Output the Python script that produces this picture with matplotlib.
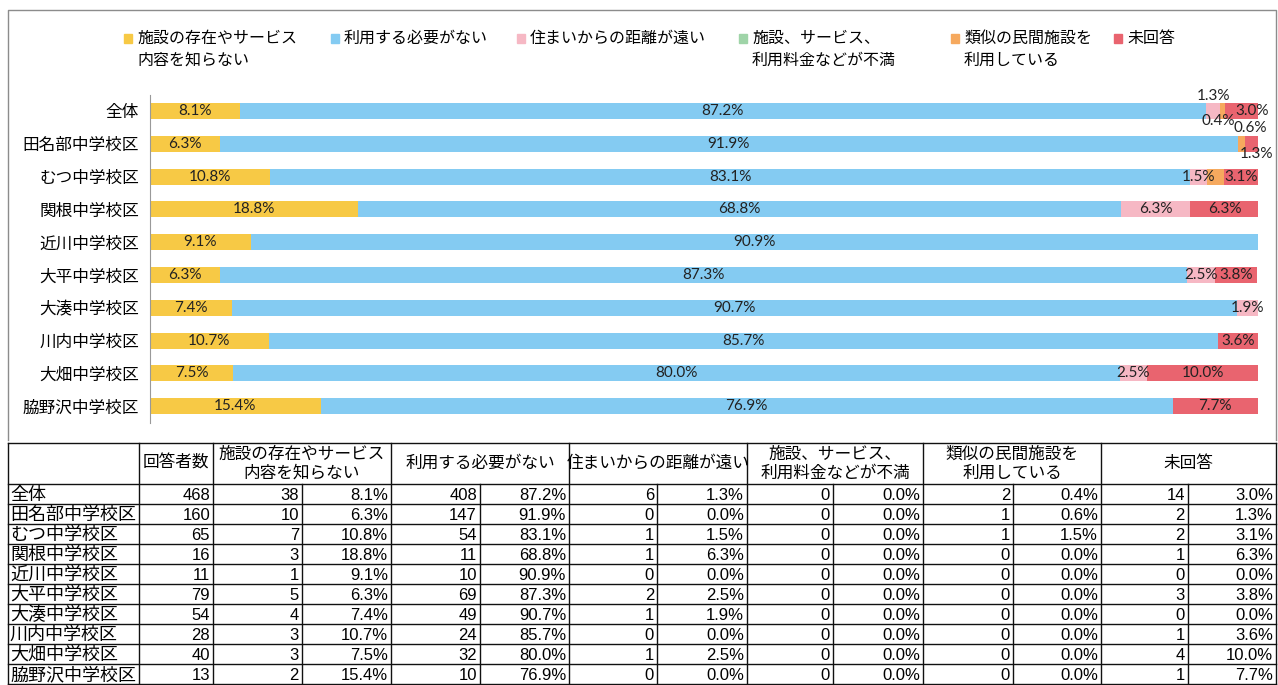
import matplotlib
matplotlib.use('Agg')
import numpy as np
import matplotlib.pyplot as plt
from matplotlib.patches import Rectangle

plt.rcParams['font.family'] = ['Noto Sans CJK JP', 'DejaVu Sans']

# ---- data ----
areas = ['全体', '田名部中学校区', 'むつ中学校区', '関根中学校区', '近川中学校区',
         '大平中学校区', '大湊中学校区', '川内中学校区', '大畑中学校区', '脇野沢中学校区']
respondents = [468, 160, 65, 16, 11, 79, 54, 28, 40, 13]

series_names = ['施設の存在やサービス\n内容を知らない', '利用する必要がない', '住まいからの距離が遠い',
                '施設、サービス、\n利用料金などが不満', '類似の民間施設を\n利用している', '未回答']

cnt_know = [38, 10, 7, 3, 1, 5, 4, 3, 3, 2]
cnt_need = [408, 147, 54, 11, 10, 69, 49, 24, 32, 10]
cnt_far = [6, 0, 1, 1, 0, 2, 1, 0, 1, 0]
cnt_dissat = [0, 0, 0, 0, 0, 0, 0, 0, 0, 0]
cnt_private = [2, 1, 1, 0, 0, 0, 0, 0, 0, 0]
cnt_noans = [14, 2, 2, 1, 0, 3, 0, 1, 4, 1]

pct_know = [8.1, 6.3, 10.8, 18.8, 9.1, 6.3, 7.4, 10.7, 7.5, 15.4]
pct_need = [87.2, 91.9, 83.1, 68.8, 90.9, 87.3, 90.7, 85.7, 80.0, 76.9]
pct_far = [1.3, 0.0, 1.5, 6.3, 0.0, 2.5, 1.9, 0.0, 2.5, 0.0]
pct_dissat = [0.0, 0.0, 0.0, 0.0, 0.0, 0.0, 0.0, 0.0, 0.0, 0.0]
pct_private = [0.4, 0.6, 1.5, 0.0, 0.0, 0.0, 0.0, 0.0, 0.0, 0.0]
pct_noans = [3.0, 1.3, 3.1, 6.3, 0.0, 3.8, 0.0, 3.6, 10.0, 7.7]

counts = [cnt_know, cnt_need, cnt_far, cnt_dissat, cnt_private, cnt_noans]
pcts = [pct_know, pct_need, pct_far, pct_dissat, pct_private, pct_noans]

colors = ['#F7C945', '#84CBF2', '#F6B8C4', '#9FD4A8', '#F6A95E', '#E9646F']

# label tweaks for crowded small segments (pixel offsets), hidden labels
label_offsets = {(0, 2): (0, 15), (0, 4): (-4, -10), (0, 5): (11, 0),
                 (1, 4): (9, 16), (1, 5): (5, -10)}
hidden_labels = {(2, 4)}

W, H = 1278, 685
fig = plt.figure(figsize=(W / 100, H / 100), dpi=100)
canvas = fig.add_axes([0, 0, 1, 1])
canvas.set_xlim(0, W)
canvas.set_ylim(H, 0)
canvas.axis('off')

# chart frame
canvas.plot([8, 8, 1276, 1276], [440, 10, 10, 440], color='#8c8c8c', lw=1)

# legend
leg_x = [128, 335, 521, 743, 955, 1118]
for x, name, c in zip(leg_x, series_names, colors):
    canvas.add_patch(Rectangle((x - 4, 34), 8, 9, color=c))
    for k, line in enumerate(name.split('\n')):
        canvas.text(x + 9, 38 + 22 * k, line, va='center', ha='left', fontsize=11.5)

# ---- bars ----
top, bot = 94.6, 422.6
bx = fig.add_axes([150 / W, 1 - bot / H, 1108 / W, (bot - top) / H])
y = np.arange(len(areas))
left = np.zeros(len(areas))
for s, (vals, c) in enumerate(zip(pcts, colors)):
    vals = np.array(vals)
    bx.barh(y, vals, left=left, height=0.49, color=c, edgecolor='none')
    for i, v in enumerate(vals):
        if v <= 0 or (i, s) in hidden_labels:
            continue
        dx, dy = label_offsets.get((i, s), (0, 0))
        bx.annotate(f'{v:.1f}%', (left[i] + v / 2, i), xytext=(dx, dy),
                    textcoords='offset pixels', ha='center', va='center',
                    fontsize=11, family=['Lato', 'DejaVu Sans'], color='#222222')
    left += vals
bx.set_xlim(0, 100)
bx.set_ylim(len(areas) - 0.5, -0.5)
bx.set_yticks(y)
bx.set_yticklabels(areas, fontsize=12)
bx.tick_params(axis='y', length=0, pad=8)
bx.set_xticks([])
for sp in ['top', 'right', 'bottom']:
    bx.spines[sp].set_visible(False)
bx.spines['left'].set_color('#999999')
bx.patch.set_alpha(0)

# ---- table ----
cols = [8, 139, 213, 302, 391, 480, 569, 657, 747, 833, 923, 1013, 1101, 1188, 1276]
t_top, h_bot, row_h = 443, 484, 20
n = len(areas)
t_bot = h_bot + row_h * n
lc = '#111111'
for yy in [t_top, h_bot] + [h_bot + row_h * (i + 1) for i in range(n)]:
    canvas.plot([cols[0], cols[-1]], [yy, yy], color=lc, lw=1)
for k, xx in enumerate(cols):
    major = k in (0, 1, 2, 4, 6, 8, 10, 12, 14)
    canvas.plot([xx, xx], [t_top if major else h_bot, t_bot], color=lc, lw=1)

head_font = 12
canvas.text((cols[1] + cols[2]) / 2, (t_top + h_bot) / 2, '回答者数',
            ha='center', va='center', fontsize=head_font)
for s, name in enumerate(series_names):
    x0, x1 = cols[2 + 2 * s], cols[4 + 2 * s]
    lines = name.split('\n')
    if len(lines) == 1:
        canvas.text((x0 + x1) / 2, (t_top + h_bot) / 2, lines[0],
                    ha='center', va='center', fontsize=head_font)
    else:
        canvas.text((x0 + x1) / 2, t_top + 11, lines[0], ha='center', va='center', fontsize=head_font)
        canvas.text((x0 + x1) / 2, t_top + 30, lines[1], ha='center', va='center', fontsize=head_font)

num_font = ['Liberation Sans Narrow', 'Liberation Sans', 'DejaVu Sans']
for i, area in enumerate(areas):
    yc = h_bot + row_h * i + row_h / 2 + 1
    canvas.text(cols[0] + 2, yc, area, ha='left', va='center', fontsize=13)
    canvas.text(cols[2] - 3, yc, str(respondents[i]), ha='right', va='center',
                fontsize=12, family=num_font)
    for s in range(6):
        canvas.text(cols[3 + 2 * s] - 3, yc, str(counts[s][i]), ha='right', va='center',
                    fontsize=12, family=num_font)
        canvas.text(cols[4 + 2 * s] - 3, yc, f'{pcts[s][i]:.1f}%', ha='right', va='center',
                    fontsize=12, family=num_font)

fig.savefig('out.png', dpi=100)
